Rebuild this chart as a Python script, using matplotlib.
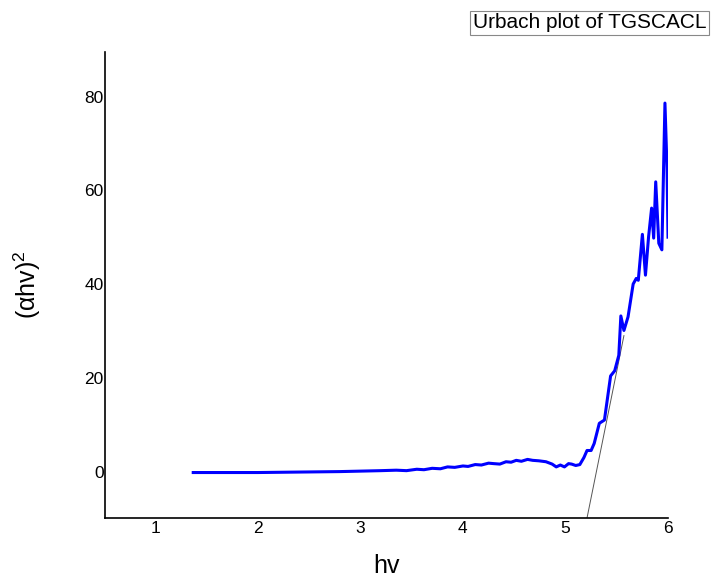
import matplotlib
matplotlib.use("Agg")
import matplotlib.pyplot as plt

plt.rcParams["font.family"] = ["Liberation Sans", "DejaVu Sans"]
plt.rcParams["mathtext.fontset"] = "custom"
plt.rcParams["mathtext.rm"] = "Liberation Sans"
plt.rcParams["mathtext.it"] = "Liberation Sans"

# photon energy hv and (alpha*hv)^2
hv = [1.37, 2.00, 2.40, 2.80, 3.00, 3.20, 3.35, 3.45, 3.55, 3.62, 3.70, 3.78,
      3.85, 3.92, 4.00, 4.05, 4.12, 4.18, 4.25, 4.30, 4.36, 4.42, 4.47, 4.52,
      4.57, 4.63, 4.68, 4.74, 4.81, 4.87, 4.91, 4.95, 4.99, 5.03, 5.06, 5.10,
      5.14, 5.18, 5.21, 5.25, 5.28, 5.33, 5.38, 5.44, 5.48, 5.52, 5.54, 5.57,
      5.61, 5.66, 5.69, 5.71, 5.75, 5.78, 5.81, 5.84, 5.86, 5.88, 5.91, 5.94,
      5.97, 5.99, 6.00]
ahv2 = [-0.2, -0.2, -0.1, 0.0, 0.1, 0.2, 0.3, 0.2, 0.5, 0.4, 0.7, 0.6,
        1.0, 0.9, 1.2, 1.1, 1.5, 1.4, 1.8, 1.7, 1.6, 2.1, 2.0, 2.4,
        2.2, 2.6, 2.4, 2.3, 2.1, 1.6, 1.0, 1.4, 1.0, 1.7, 1.6, 1.3,
        1.5, 3.0, 4.5, 4.5, 6.0, 10.3, 11.0, 20.4, 21.5, 24.8, 33.2, 30.1,
        33.0, 40.0, 41.2, 40.8, 50.6, 41.9, 50.0, 56.2, 49.8, 61.8, 48.7, 47.3,
        78.6, 64.8, 50.0]

# linear extrapolation of the absorption edge
fit_x = [5.21, 5.57]
fit_y = [-9.9, 29.0]

xticks = [1, 2, 3, 4, 5, 6]
yticks = [0, 20, 40, 60, 80]

fig = plt.figure(figsize=(7.15, 5.84), dpi=100)
ax = fig.add_axes([0.1469, 0.1130, 0.7874, 0.7980])

ax.plot(fit_x, fit_y, color="#555555", lw=0.7)
ax.plot(hv, ahv2, color="#0000ff", lw=2.2)

ax.set_xlim(0.51, 6.0)
ax.set_ylim(-9.9, 89.5)
ax.set_xticks(xticks)
ax.set_yticks(yticks)
ax.tick_params(length=0, labelsize=12.5, pad=2)
ax.tick_params(axis="y", pad=1)

for side in ("top", "right"):
    ax.spines[side].set_visible(False)
for side in ("left", "bottom"):
    ax.spines[side].set_linewidth(1.2)

ax.set_xlabel("hv", fontsize=18)
ax.xaxis.set_label_coords(0.5, -0.078)
ax.set_ylabel(r"$(\alpha hv)^2$", fontsize=18)
ax.yaxis.set_label_coords(-0.11, 0.5)

fig.text(0.6615, 0.961, "Urbach plot of TGSCACL", fontsize=15,
         ha="left", va="center",
         bbox=dict(boxstyle="square,pad=0.12", fc="white", ec="#888888", lw=0.8))

fig.savefig("out.png", dpi=100)
